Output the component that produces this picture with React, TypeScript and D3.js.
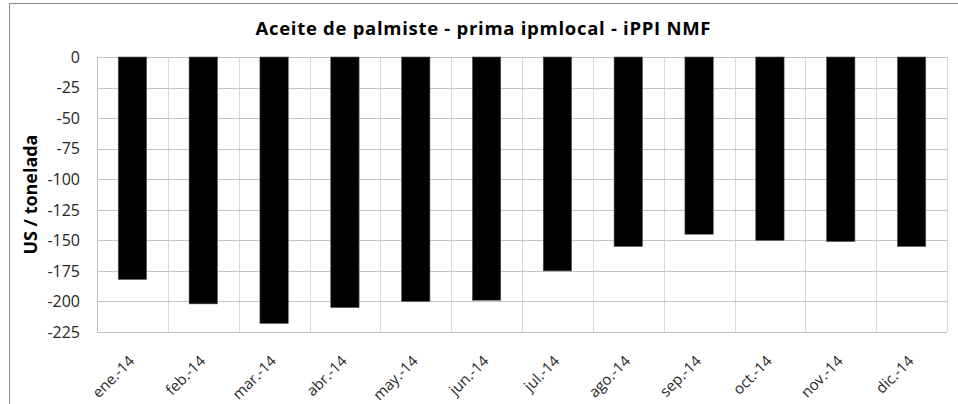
import React from "react";
import * as d3 from "d3";

const months = [
  "ene.-14", "feb.-14", "mar.-14", "abr.-14", "may.-14", "jun.-14",
  "jul.-14", "ago.-14", "sep.-14", "oct.-14", "nov.-14", "dic.-14",
];
const prima = [-182, -202, -218, -205, -200, -199, -175, -155, -145, -150, -151, -155];
const yTicks = [0, -25, -50, -75, -100, -125, -150, -175, -200, -225];

const title = "Aceite de palmiste - prima ipmlocal - iPPI NMF";
const yLabel = "US / tonelada";

const W = 958;
const H = 404;
const plot = { left: 97, right: 947, top: 57, bottom: 332 };
const font = "'Open Sans', Lato, sans-serif";

export default function App() {
  const x = d3
    .scaleBand<string>()
    .domain(months)
    .range([plot.left, plot.right])
    .paddingInner(0.6)
    .paddingOuter(0.3);
  const step = x.step();
  const y = d3.scaleLinear().domain([-225, 0]).range([plot.bottom, plot.top]);

  // category boundaries for the vertical gridlines
  const bounds = d3.range(months.length + 1).map((i) => plot.left + i * step);

  return (
    <svg width={W} height={H} style={{ position: "absolute", left: 0, top: 0, background: "#fff" }}>
      <rect x={0} y={0} width={W} height={H} fill="#fff" />
      {/* chart frame */}
      <line x1={9.5} x2={9.5} y1={3} y2={H} stroke="#8c8c8c" />
      <line x1={9} x2={W} y1={3.5} y2={3.5} stroke="#8c8c8c" />

      <text x={483} y={35} textAnchor="middle" fontFamily={font} fontWeight="bold" fontSize={18.5}
        textLength={455} lengthAdjust="spacing" fill="#000">
        {title}
      </text>

      {/* vertical gridlines */}
      {bounds.map((bx, i) => (
        <line key={"v" + i} x1={Math.round(bx) + 0.5} x2={Math.round(bx) + 0.5} y1={plot.top} y2={plot.bottom}
          stroke={i === 0 ? "#bfbfbf" : "#d9d9d9"} />
      ))}
      {/* horizontal gridlines */}
      {yTicks.map((t) => (
        <line key={"h" + t} x1={plot.left} x2={plot.right} y1={Math.round(y(t)) + 0.5} y2={Math.round(y(t)) + 0.5}
          stroke="#c4c4c4" />
      ))}

      {/* bars */}
      {prima.map((v, i) => (
        <rect key={months[i]} x={x(months[i])} y={y(0)} width={x.bandwidth()} height={y(v) - y(0)}
          fill="#000" stroke="#555" strokeWidth={0.6} />
      ))}

      {/* y tick labels */}
      {yTicks.map((t) => (
        <text key={"yl" + t} x={80} y={y(t)} dy="0.36em" textAnchor="end" fontFamily={font} fontSize={16} fill="#262626">
          {t}
        </text>
      ))}

      {/* x tick labels */}
      {months.map((m) => {
        const cx = (x(m) ?? 0) + x.bandwidth() / 2 + 3;
        return (
          <text key={"xl" + m} transform={`translate(${cx},${plot.bottom + 30}) rotate(-45)`} textAnchor="end"
            fontFamily={font} fontSize={15} fill="#262626">
            {m}
          </text>
        );
      })}

      <text transform={`translate(37,${(plot.top + plot.bottom) / 2}) rotate(-90)`} textAnchor="middle"
        fontFamily={font} fontWeight="bold" fontSize={18} textLength={120} lengthAdjust="spacing" fill="#000">
        {yLabel}
      </text>
    </svg>
  );
}
